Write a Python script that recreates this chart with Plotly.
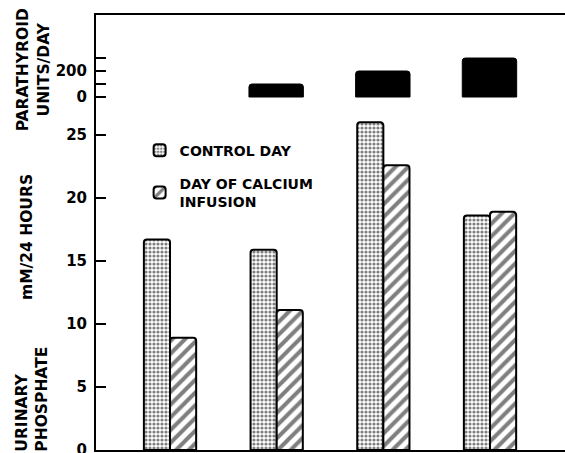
import plotly.graph_objects as go

# ---- data ----
subjects = ["Case 1", "Case 2", "Case 3", "Case 4"]
control_day = [16.7, 15.9, 26.0, 18.6]
calcium_day = [8.9, 11.1, 22.6, 18.9]
parathyroid_units = [None, 100, 200, 300]

phos_ticks = [0, 5, 10, 15, 20, 25]
phos_labels = ["0", "5", "10", "15", "20", "25"]
pth_ticks = [0, 100, 200, 300]
pth_labels = ["0", "", "200", ""]

FONT = "DejaVu Sans"
split = 0.7816
xrange_ = [-0.694, 3.703]
phos_range = [0, 26.98]
pth_range = [-100, 631]

fig = go.Figure()
fig.add_trace(go.Bar(
    x=subjects, y=control_day, name="CONTROL DAY",
    offset=-0.245, width=0.245, legendgroup="a",
    marker=dict(color="white", line=dict(color="black", width=2),
                pattern=dict(shape=".", fgcolor="black", bgcolor="white",
                             size=4, solidity=0.5)),
    xaxis="x", yaxis="y",
))
fig.add_trace(go.Bar(
    x=subjects, y=calcium_day, name="DAY OF CALCIUM<br>INFUSION",
    offset=0, width=0.245, legendgroup="b",
    marker=dict(color="white", line=dict(color="black", width=2),
                pattern=dict(shape="/", fgcolor="black", bgcolor="white",
                             size=9, solidity=0.45)),
    xaxis="x", yaxis="y",
))
fig.add_trace(go.Bar(
    x=subjects, y=parathyroid_units, name="Parathyroid",
    offset=-0.26, width=0.51, showlegend=False,
    marker=dict(color="black", line=dict(color="black", width=1)),
    xaxis="x2", yaxis="y2",
))

tickfont = dict(family=FONT, size=15, color="black", weight="bold")

fig.update_layout(
    width=565, height=453,
    margin=dict(l=96, r=0, t=15, b=3, autoexpand=False),
    paper_bgcolor="white", plot_bgcolor="white",
    font=dict(family=FONT, color="black"),
    barcornerradius=3,
    showlegend=True,
    legend=dict(x=0.093, y=0.725, xanchor="left", yanchor="top",
                bgcolor="rgba(0,0,0,0)", traceorder="grouped",
                font=dict(family=FONT, size=14, color="black", weight="bold"),
                tracegroupgap=12),
    xaxis=dict(type="category", range=xrange_, anchor="y", automargin=False,
               showline=True, linecolor="black", linewidth=2,
               showticklabels=False, ticks="", showgrid=False, zeroline=False),
    xaxis2=dict(type="category", range=xrange_, anchor="y2", side="top",
                matches="x", automargin=False,
                showline=True, linecolor="black", linewidth=2,
                showticklabels=False, ticks="", showgrid=False, zeroline=False),
    yaxis=dict(domain=[0, split], range=phos_range, anchor="x", automargin=False,
               tickvals=phos_ticks, ticktext=phos_labels,
               ticks="inside", ticklen=10, tickwidth=2, tickcolor="black",
               showline=True, linecolor="black", linewidth=2,
               showgrid=False, zeroline=False, tickfont=tickfont,
               ticklabelstandoff=4, ticklabeloverflow="allow"),
    yaxis2=dict(domain=[split, 1], range=pth_range, anchor="x2", automargin=False,
                tickvals=pth_ticks, ticktext=pth_labels,
                ticks="inside", ticklen=10, tickwidth=2, tickcolor="black",
                showline=True, linecolor="black", linewidth=2,
                showgrid=False, zeroline=False, tickfont=tickfont,
                ticklabelstandoff=4, ticklabeloverflow="allow"),
    yaxis3=dict(overlaying="y", side="right", range=phos_range, automargin=False,
                tickvals=phos_ticks, showticklabels=False,
                ticks="inside", ticklen=10, tickwidth=2, tickcolor="black",
                showline=False, showgrid=False, zeroline=False),
    yaxis4=dict(overlaying="y2", side="right", range=pth_range, automargin=False,
                tickvals=pth_ticks, showticklabels=False,
                ticks="inside", ticklen=10, tickwidth=2, tickcolor="black",
                showline=False, showgrid=False, zeroline=False),
)

labfont = dict(family=FONT, size=15.5, color="black", weight="bold")
fig.add_annotation(text="PARATHYROID<br>UNITS/DAY", xref="paper", yref="paper",
                   x=-0.1335, y=0.8736, textangle=-90, showarrow=False,
                   font=labfont, align="center", xanchor="center", yanchor="middle")
fig.add_annotation(text="mM/24 HOURS", xref="paper", yref="paper",
                   x=-0.1471, y=0.4897, textangle=-90, showarrow=False,
                   font=labfont, xanchor="center", yanchor="middle")
fig.add_annotation(text="URINARY<br>PHOSPHATE", xref="paper", yref="paper",
                   x=-0.1365, y=0.118, textangle=-90, showarrow=False,
                   font=labfont, align="left", xanchor="center", yanchor="middle")

fig.write_html("out.html", config={"displayModeBar": False},
               post_script="document.body.style.margin='0';document.body.style.overflow='hidden';")
